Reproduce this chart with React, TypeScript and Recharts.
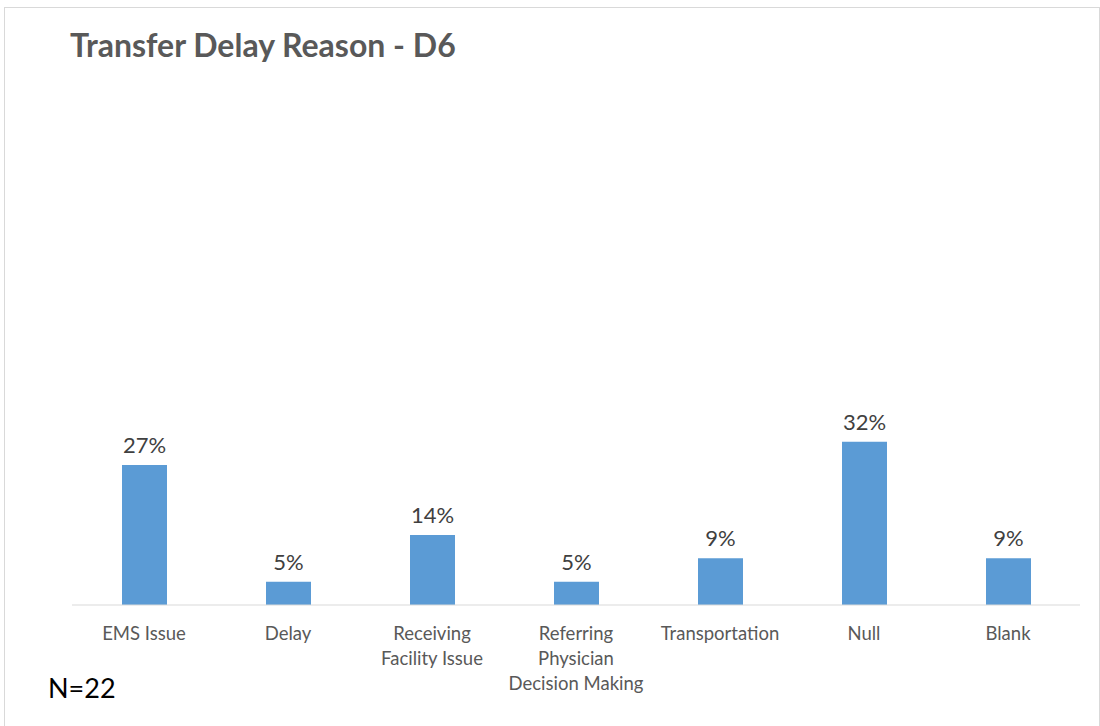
import { BarChart, Bar, XAxis, YAxis, LabelList } from "recharts";

const categories = [
  "EMS Issue",
  "Delay",
  "Receiving Facility Issue",
  "Referring Physician Decision Making",
  "Transportation",
  "Null",
  "Blank",
];
// share of 22 transfers, in percent
const shares = [27.27, 4.55, 13.64, 4.55, 9.09, 31.82, 9.09];

const data = categories.map((name, i) => ({ name, value: shares[i] }));

const FONT = "Lato, 'Open Sans', sans-serif";

function wrap(text: string, max = 15) {
  const lines: string[] = [];
  let cur = "";
  for (const w of text.split(" ")) {
    const next = cur ? cur + " " + w : w;
    if (next.length > max && cur) {
      lines.push(cur);
      cur = w;
    } else cur = next;
  }
  if (cur) lines.push(cur);
  return lines;
}

const CategoryTick = ({ x, y, payload }: { x?: number; y?: number; payload?: { value: string } }) => {
  const lines = wrap(payload?.value ?? "");
  return (
    <text x={x} y={(y ?? 0) + 27} textAnchor="middle" fill="#595959" fontSize={18.5} fontFamily={FONT}>
      {lines.map((l, i) => (
        <tspan key={i} x={x} dy={i === 0 ? 0 : 25}>{l}</tspan>
      ))}
    </text>
  );
};

export default function App() {
  return (
    <div style={{ position: "absolute", left: 0, top: 0, width: 1100, height: 726, background: "#fff", fontFamily: FONT }}>
      <div style={{ position: "absolute", left: 4, top: 7, width: 1094, height: 730, borderTop: "1px solid #d9d9d9", borderLeft: "1px solid #d9d9d9", borderRight: "1px solid #d9d9d9" }} />
      <div style={{ position: "absolute", left: 70, top: 25, fontSize: 32, fontWeight: 700, color: "#595959" }}>
        Transfer Delay Reason - D6
      </div>
      <div style={{ position: "absolute", left: 48, top: 671, fontSize: 27, color: "#000" }}>N=22</div>
      <div style={{ position: "absolute", left: 0, top: 0 }}>
        <BarChart width={1100} height={726} data={data} margin={{ top: 92, right: 20, left: 72, bottom: 91 }}>
          <XAxis
            dataKey="name"
            interval={0}
            tickLine={false}
            axisLine={{ stroke: "#d9d9d9" }}
            tick={<CategoryTick />}
          />
          <YAxis hide domain={[0, 100]} />
          <Bar dataKey="value" fill="#5b9bd5" barSize={45} isAnimationActive={false}>
            <LabelList
              dataKey="value"
              position="top"
              offset={12}
              formatter={(v: number) => `${Math.round(v)}%`}
              style={{ fill: "#404040", fontSize: 22, fontFamily: FONT }}
            />
          </Bar>
        </BarChart>
      </div>
    </div>
  );
}
